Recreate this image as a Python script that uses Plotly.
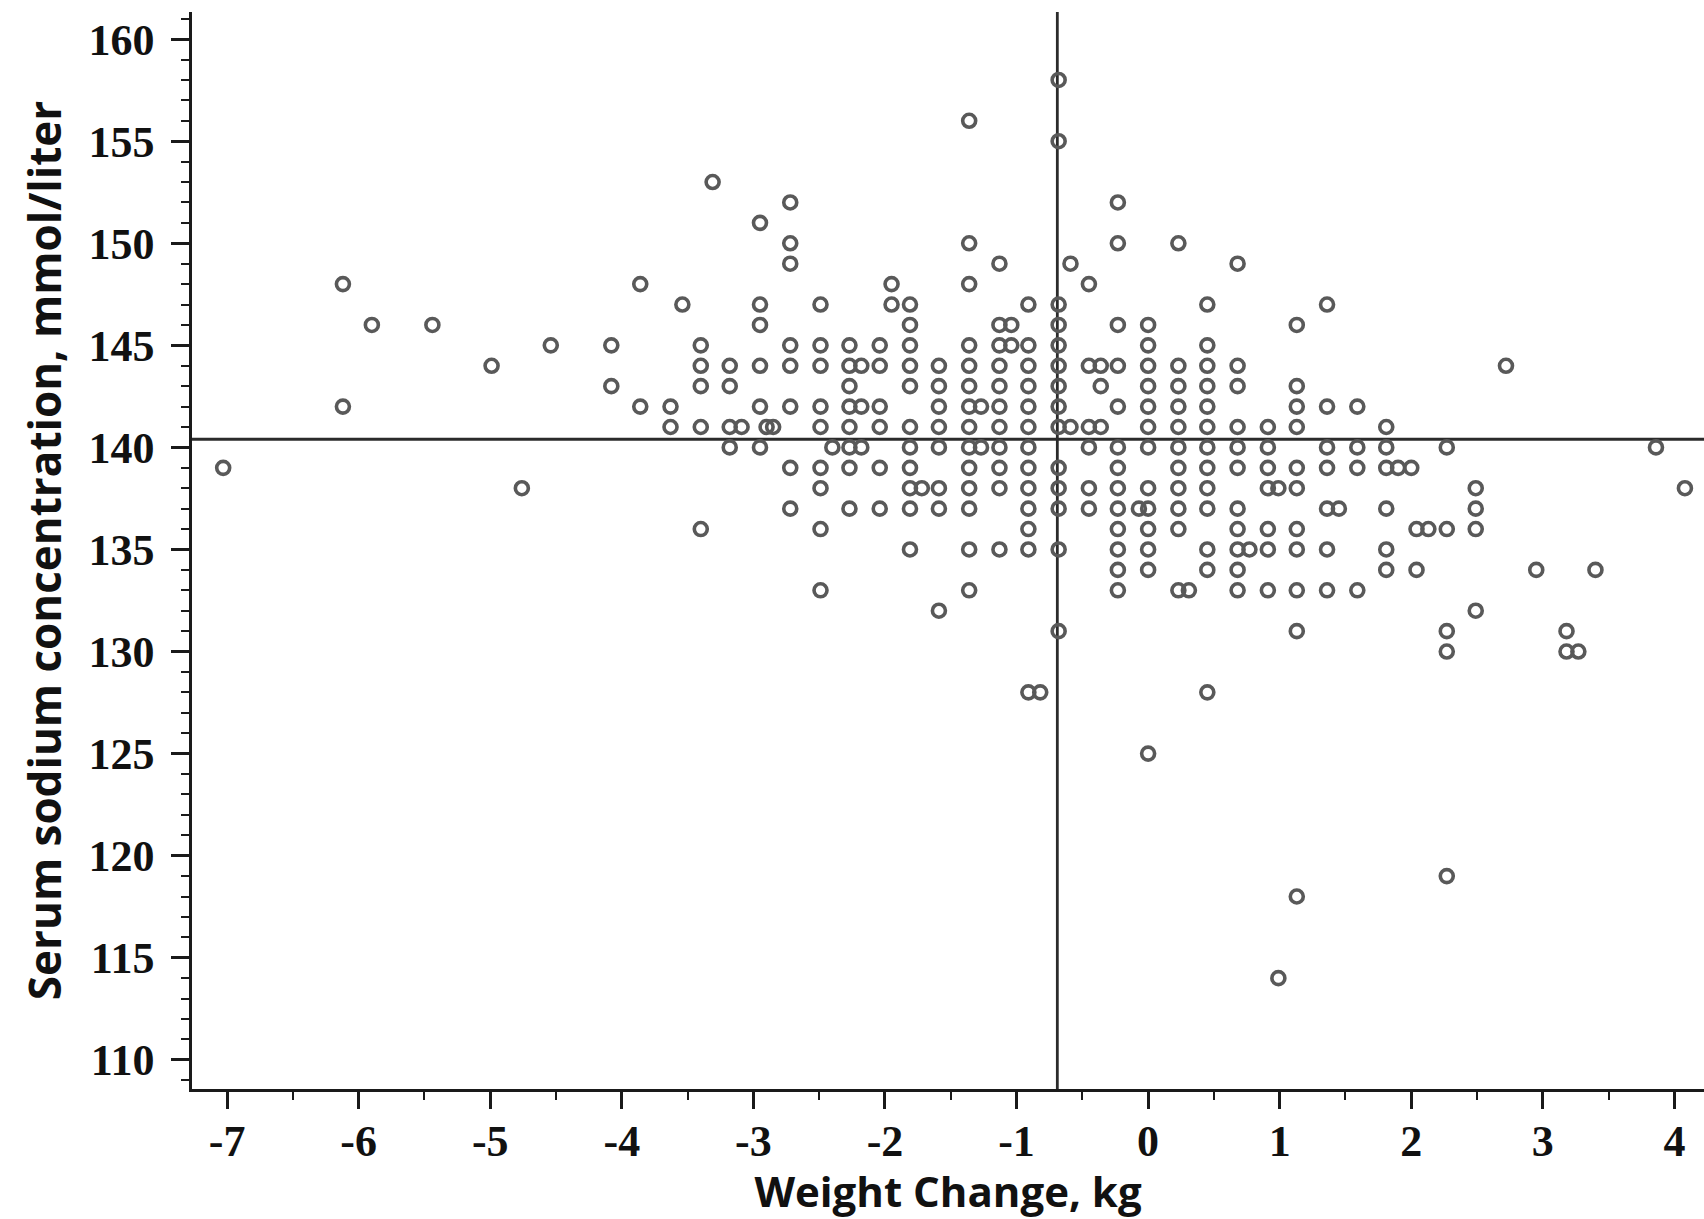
import plotly.graph_objects as go

# Weight change columns (kg) and the serum sodium values (mmol/liter) observed at each
weight_columns = [
    -7.03, -6.12, -5.90, -5.44, -4.99, -4.76, -4.54, -4.08, -3.86, -3.63,
    -3.54, -3.40, -3.31, -3.18, -3.09, -2.95, -2.90, -2.85, -2.72, -2.49,
    -2.40, -2.27, -2.18, -2.04, -1.95, -1.81, -1.72, -1.59, -1.36, -1.27,
    -1.13, -1.04, -0.91, -0.82, -0.68, -0.59, -0.45, -0.36, -0.23, -0.07,
    0.00, 0.23, 0.31, 0.45, 0.68, 0.77, 0.91, 0.99, 1.13, 1.36,
    1.45, 1.59, 1.81, 1.90, 2.00, 2.04, 2.13, 2.27, 2.49, 2.72,
    2.95, 3.18, 3.27, 3.40, 3.86, 4.08,
]
sodium_by_column = [
    [139], [148, 142], [146], [146], [144], [138], [145], [145, 143], [148, 142], [142, 141],
    [147], [145, 144, 143, 141, 136], [153], [144, 143, 141, 140], [141],
    [151, 147, 146, 144, 142, 140], [141], [141],
    [152, 150, 149, 145, 144, 142, 139, 137],
    [147, 145, 144, 142, 141, 139, 138, 136, 133],
    [140], [145, 144, 143, 142, 141, 140, 139, 137], [144, 142, 140],
    [145, 144, 142, 141, 139, 137], [148, 147],
    [147, 146, 145, 144, 143, 141, 140, 139, 138, 137, 135], [138],
    [144, 143, 142, 141, 140, 138, 137, 132],
    [156, 150, 148, 145, 144, 143, 142, 141, 140, 139, 138, 137, 135, 133], [142, 140],
    [149, 146, 145, 144, 143, 142, 141, 140, 139, 138, 135], [146, 145],
    [147, 145, 144, 143, 142, 141, 140, 139, 138, 137, 136, 135, 128], [128],
    [158, 155, 147, 146, 145, 144, 143, 142, 141, 139, 138, 137, 135, 131], [149, 141],
    [148, 144, 141, 140, 138, 137], [144, 143, 141],
    [152, 150, 146, 144, 142, 140, 139, 138, 137, 136, 135, 134, 133], [137],
    [146, 145, 144, 143, 142, 141, 140, 138, 137, 136, 135, 134, 125],
    [150, 144, 143, 142, 141, 140, 139, 138, 137, 136, 133], [133],
    [147, 145, 144, 143, 142, 141, 140, 139, 138, 137, 135, 134, 128],
    [149, 144, 143, 141, 140, 139, 137, 136, 135, 134, 133], [135],
    [141, 140, 139, 138, 136, 135, 133], [138, 114],
    [146, 143, 142, 141, 139, 138, 136, 135, 133, 131, 118],
    [147, 142, 140, 139, 137, 135, 133],
    [137], [142, 140, 139, 133], [141, 140, 139, 137, 135, 134], [139], [139],
    [136, 134], [136], [140, 136, 131, 130, 119], [138, 137, 136, 132], [144],
    [134], [131, 130], [130], [134], [140], [138],
]

mean_weight_change = -0.69
mean_sodium = 140.4

x_tick_values = [-7, -6, -5, -4, -3, -2, -1, 0, 1, 2, 3, 4]
y_tick_values = [110, 115, 120, 125, 130, 135, 140, 145, 150, 155, 160]

x_points = []
y_points = []
for wx, vals in zip(weight_columns, sodium_by_column):
    for v in vals:
        x_points.append(wx)
        y_points.append(v)

fig = go.Figure()
fig.add_trace(go.Scatter(
    x=x_points, y=y_points, mode="markers",
    marker=dict(symbol="circle-open", size=13, color="#595959",
                line=dict(width=3.6, color="#595959")),
    showlegend=False, cliponaxis=False,
))

line_color = "#2b2b2b"
fig.add_shape(type="line", xref="paper", yref="y", x0=0, x1=1,
              y0=mean_sodium, y1=mean_sodium,
              line=dict(color=line_color, width=2.8), layer="below")
fig.add_shape(type="line", xref="x", yref="paper", x0=mean_weight_change,
              x1=mean_weight_change, y0=0, y1=1,
              line=dict(color=line_color, width=2.8), layer="below")

tick_font = dict(family="Liberation Serif, Times New Roman, serif", size=44,
                 color="#111111", weight="bold")
x_title_font = dict(family="Open Sans, Lato, sans-serif", size=42,
                    color="#111111", weight="bold")
y_title_font = dict(family="Open Sans, Lato, sans-serif", size=44,
                    color="#111111", weight="bold")

fig.update_layout(
    width=1704, height=1219,
    margin=dict(l=192, r=0, t=12, b=130),
    paper_bgcolor="white", plot_bgcolor="white",
    xaxis=dict(
        range=[-7.267, 4.225], tickmode="array", tickvals=x_tick_values,
        ticktext=[str(v) for v in x_tick_values],
        ticks="outside", ticklen=17, tickwidth=2.5, tickcolor="#1a1a1a",
        showline=True, linecolor="#1a1a1a", linewidth=2.5, mirror=False,
        showgrid=False, zeroline=False, tickfont=tick_font,
        ticklabelstandoff=-6,
        minor=dict(dtick=0.5, tick0=0, ticks="outside", ticklen=8,
                   tickwidth=2, tickcolor="#1a1a1a", showgrid=False),
        title=dict(text="Weight Change, kg", font=x_title_font, standoff=2),
    ),
    yaxis=dict(
        range=[108.57, 161.33], tickmode="array", tickvals=y_tick_values,
        ticktext=[str(v) for v in y_tick_values],
        ticks="outside", ticklen=18, tickwidth=2.5, tickcolor="#1a1a1a",
        showline=True, linecolor="#1a1a1a", linewidth=2.5, mirror=False,
        showgrid=False, zeroline=False, tickfont=tick_font,
        ticklabelstandoff=8,
        minor=dict(dtick=1, tick0=0, ticks="outside", ticklen=8,
                   tickwidth=2, tickcolor="#1a1a1a", showgrid=False),
        title=dict(text="Serum sodium concentration, mmol/liter", font=y_title_font,
                   standoff=14),
    ),
)

fig.write_html("out.html")
